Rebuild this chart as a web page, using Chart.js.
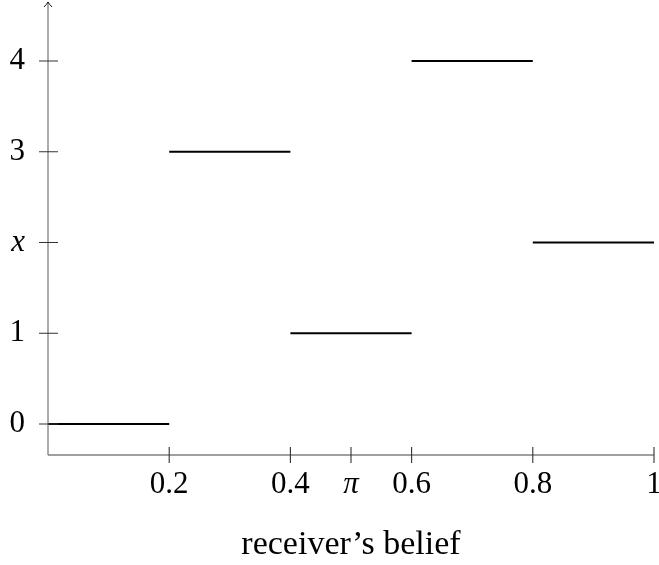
<!doctype html>
<html>
<head>
    <title>Receiver's belief</title>
    <script src="https://cdn.jsdelivr.net/npm/chart.js@4.4.1/dist/chart.umd.min.js"></script>
    <style>
        html, body { margin: 0; padding: 0; background: #fff; }
        #wrap { width: 659px; height: 565px; }
    </style>
</head>
<body>
    <div id="wrap"><canvas id="myChart" width="659" height="565"></canvas></div>
    <script>
        // step function: one level per belief interval
        var breaks = [0, 0.2, 0.4, 0.6, 0.8, 1];
        var levels = [0, 3, 1, 4, 2];
        var xTickValues = [0.2, 0.4, 0.5, 0.6, 0.8, 1];
        var xTickLabels = ['0.2', '0.4', 'π', '0.6', '0.8', '1'];
        var yTickValues = [0, 1, 2, 3, 4];
        var yTickLabels = ['0', '1', 'x', '3', '4'];
        var xTitle = 'receiver\u2019s belief';

        var serif = '"Liberation Serif", "Times New Roman", serif';
        var italicLabels = ['π', 'x'];

        var datasets = [];
        for (var i = 0; i < levels.length; i++) {
            datasets.push({
                data: [{x: breaks[i], y: levels[i]}, {x: breaks[i + 1], y: levels[i]}],
                borderColor: '#000',
                borderWidth: 2,
                pointRadius: 0,
                fill: false,
                clip: false
            });
        }

        function tickFont(ctx) {
            var lab = ctx.tick ? ctx.tick.label : '';
            return {family: serif, size: 31, style: italicLabels.indexOf(lab) >= 0 ? 'italic' : 'normal'};
        }

        // labels sit away from the ends, so no extra room is needed
        function noPad(scale) {
            scale.paddingTop = 0;
            scale.paddingBottom = 0;
            scale.paddingLeft = 0;
            scale.paddingRight = 0;
        }

        var axesPlugin = {
            id: 'texAxes',
            afterDraw: function(chart) {
                var c = chart.ctx;
                var xs = chart.scales.x, ys = chart.scales.y;
                var x0 = xs.getPixelForValue(0);
                var yb = ys.getPixelForValue(ys.min);
                var yt = ys.getPixelForValue(ys.max);
                c.save();
                c.strokeStyle = '#808080';
                c.lineWidth = 1.3;
                c.beginPath();
                c.moveTo(x0, yb);
                c.lineTo(x0, yt);
                c.moveTo(x0, yb);
                c.lineTo(xs.getPixelForValue(1), yb);
                c.stroke();
                // arrow tip
                c.strokeStyle = '#000';
                c.lineWidth = 0.9;
                c.beginPath();
                c.moveTo(x0 - 4, yt + 5);
                c.quadraticCurveTo(x0 - 1, yt + 2, x0, yt);
                c.quadraticCurveTo(x0 + 1, yt + 2, x0 + 4, yt + 5);
                c.stroke();
                // ticks crossing the axes
                c.strokeStyle = '#333';
                c.lineWidth = 1.1;
                c.beginPath();
                xTickValues.forEach(function(v) {
                    var px = xs.getPixelForValue(v);
                    c.moveTo(px, yb - 8);
                    c.lineTo(px, yb + 8);
                });
                yTickValues.forEach(function(v) {
                    var py = ys.getPixelForValue(v);
                    c.moveTo(x0 - 9, py);
                    c.lineTo(x0 + 10, py);
                });
                c.stroke();
                c.restore();
            }
        };

        var ctx = document.getElementById('myChart').getContext('2d');
        var _chart = new Chart(ctx, {
            type: 'line',
            data: { datasets: datasets },
            options: {
                responsive: false,
                animation: false,
                layout: { padding: { left: 0, right: 5, top: 2, bottom: 0 } },
                plugins: { legend: { display: false }, tooltip: { enabled: false } },
                scales: {
                    x: {
                        type: 'linear',
                        min: 0,
                        max: 1,
                        grid: { display: false },
                        border: { display: false },
                        afterBuildTicks: function(scale) {
                            scale.ticks = xTickValues.map(function(v) { return {value: v}; });
                        },
                        afterFit: function(scale) { scale.height = 110; noPad(scale); },
                        ticks: {
                            autoSkip: false,
                            maxRotation: 0,
                            padding: 3,
                            color: '#000',
                            font: tickFont,
                            callback: function(val, idx) { return xTickLabels[idx]; }
                        },
                        title: {
                            display: true,
                            text: xTitle,
                            color: '#000',
                            padding: { top: 0, bottom: 0 },
                            font: { family: serif, size: 34 }
                        }
                    },
                    y: {
                        type: 'linear',
                        min: -0.342,
                        max: 4.65,
                        grid: { display: false },
                        border: { display: false },
                        afterBuildTicks: function(scale) {
                            scale.ticks = yTickValues.map(function(v) { return {value: v}; });
                        },
                        afterFit: function(scale) { scale.width = 48; noPad(scale); },
                        ticks: {
                            padding: 15,
                            color: '#000',
                            font: tickFont,
                            callback: function(val, idx) { return yTickLabels[idx]; }
                        }
                    }
                }
            },
            plugins: [axesPlugin]
        });
    </script>
</body>
</html>
